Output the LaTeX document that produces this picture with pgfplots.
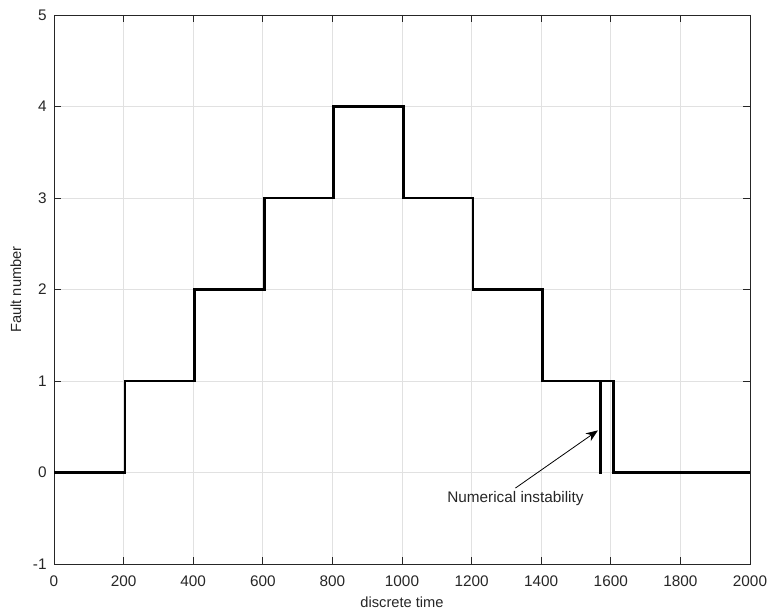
\documentclass[border=0pt]{standalone}
\usepackage{fontspec}
\setmainfont{Liberation Sans}
\usepackage{pgfplots}
\pgfplotsset{compat=1.18}
\usetikzlibrary{arrows.meta}
\definecolor{axgray}{RGB}{38,38,38}
\definecolor{gridgray}{RGB}{225,225,225}
\begin{document}
\begin{tikzpicture}
    \useasboundingbox (0,0) rectangle (576pt,456.75pt);
    \begin{axis}
        [
        at={(40.5pt,33.75pt)}, anchor=south west,
        scale only axis,
        width=522pt, height=411.75pt,
        xmin=0, xmax=2000,
        ymin=-1, ymax=5,
        xtick={0,200,...,2000},
        ytick={-1,0,...,5},
        grid=major,
        grid style={gridgray, line width=0.6pt},
        axis line style={axgray, line width=0.6pt},
        tick style={axgray, line width=0.6pt},
        major tick length=5pt,
        tick align=inside,
        xticklabel style={font=\fontsize{11.5}{13}\selectfont, text=axgray, yshift=-5pt},
        yticklabel style={font=\fontsize{11.5}{13}\selectfont, text=axgray, xshift=-2pt},
        /pgf/number format/assume math mode=true,
        /pgf/number format/1000 sep={},
        xlabel={discrete time},
        ylabel={Fault number},
        label style={font=\fontsize{11}{13}\selectfont, text=axgray},
        xlabel style={yshift=-1pt},
        ylabel style={yshift=2pt},
        ]
        \addplot[black, line width=2pt, line join=miter]
        coordinates {
            (0,0)(204,0)(204,1)(404,1)(404,2)(604,2)(604,3)(804,3)(804,4)
            (1004,4)(1004,3)(1204,3)(1204,2)(1404,2)(1404,1)
            (1570,1)(1570,0)(1572,0)(1572,1)
            (1607,1)(1607,0)(2000,0)
        };
        \draw[black, line width=0.6pt, -{Stealth[length=9pt, width=7pt]}]
            (axis cs:1326,-0.17) -- (axis cs:1563,0.46);
        \node[font=\fontsize{11.5}{13}\selectfont, text=axgray] at (axis cs:1326,-0.28) {Numerical instability};
    \end{axis}
\end{tikzpicture}
\end{document}
